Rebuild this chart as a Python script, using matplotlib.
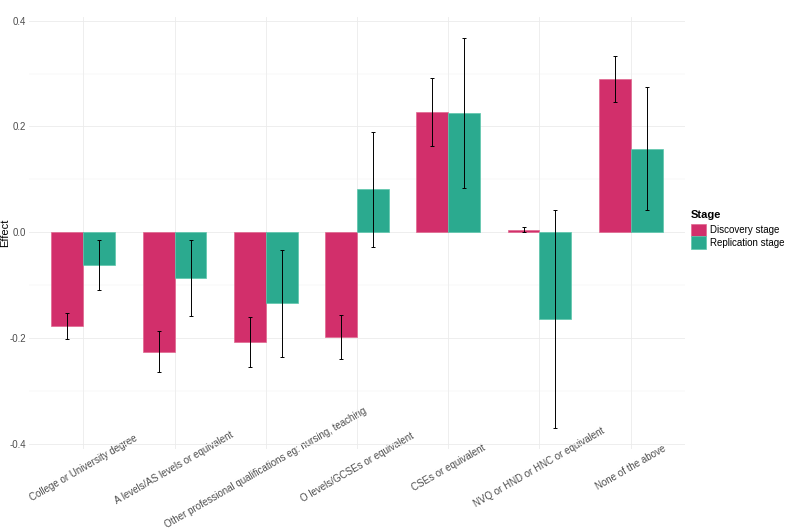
import numpy as np
import matplotlib
matplotlib.use("Agg")
import matplotlib.pyplot as plt
from matplotlib.patches import Patch
from matplotlib.ticker import MultipleLocator, FuncFormatter

plt.rcParams['font.family'] = ['Liberation Sans', 'DejaVu Sans']

# Daty
categories = [
    "College or University degree",
    "A levels/AS levels or equivalent",
    "Other professional qualifications eg: nursing, teaching",
    "O levels/GCSEs or equivalent",
    "CSEs or equivalent",
    "NVQ or HND or HNC or equivalent",
    "None of the above",
]
stages = ["Discovery stage", "Replication stage"]

disc_effect = [-0.178, -0.226, -0.208, -0.198, 0.227, 0.004, 0.290]
disc_low = [-0.203, -0.265, -0.256, -0.239, 0.163, 0.000, 0.247]
disc_high = [-0.153, -0.187, -0.160, -0.157, 0.291, 0.009, 0.333]

rep_effect = [-0.062, -0.086, -0.134, 0.081, 0.225, -0.165, 0.158]
rep_low = [-0.110, -0.158, -0.236, -0.029, 0.083, -0.371, 0.041]
rep_high = [-0.015, -0.015, -0.033, 0.190, 0.368, 0.042, 0.275]

colors = ["#d22f6b", "#2baa8f"]
edges = ["#e0688f", "#5cc6ac"]

fig = plt.figure(figsize=(7.87, 5.30), dpi=100)
ax = fig.add_axes([0.0363, 0.153, 0.8347, 0.815])

x = np.arange(len(categories))
w = 0.35
series = [(disc_effect, disc_low, disc_high), (rep_effect, rep_low, rep_high)]
for i, (eff, lo, hi) in enumerate(series):
    pos = x + (i - 0.5) * w
    eff = np.array(eff)
    ax.bar(pos, eff, width=w, color=colors[i], edgecolor=edges[i],
           linewidth=0.5, zorder=2)
    yerr = np.vstack([eff - np.array(lo), np.array(hi) - eff])
    ax.errorbar(pos, eff, yerr=yerr, fmt='none', ecolor='black',
                elinewidth=0.7, capsize=1.2, capthick=0.7, zorder=3)

ax.set_xlim(-0.6, len(categories) - 0.4)
ax.set_ylim(-0.41, 0.407)
ax.yaxis.set_major_locator(MultipleLocator(0.2))
ax.yaxis.set_minor_locator(MultipleLocator(0.1))
ax.yaxis.set_major_formatter(FuncFormatter(lambda v, p: f"{v:.1f}"))

ax.set_xticks(x)
ax.set_xticklabels(categories, rotation=30, ha='center', va='center',
                   rotation_mode='anchor')

ax.grid(which='major', color='#ebebeb', linewidth=0.6, zorder=0)
ax.grid(which='minor', axis='y', color='#f2f2f2', linewidth=0.35, zorder=0)
ax.set_axisbelow(True)
for s in ax.spines.values():
    s.set_visible(False)
ax.tick_params(axis='both', which='both', length=0, labelsize=7,
               labelcolor='#4d4d4d')
ax.tick_params(axis='x', pad=13.5)
ax.tick_params(axis='y', pad=1.5)

ax.set_ylabel("Effect", fontsize=8, va='center')
ax.yaxis.set_label_coords(-0.035, 0.5)

# legenda
fig.text(691 / 787, 1 - 215 / 530, "Stage", fontsize=8, fontweight='bold',
         ha='left', va='center')
handles = [Patch(facecolor=colors[i], edgecolor=edges[i], linewidth=0.5)
           for i in range(2)]
leg = fig.legend(handles, stages, loc='upper left',
                 bbox_to_anchor=(691 / 787, 1 - 224 / 530), frameon=False,
                 fontsize=7, borderpad=0, borderaxespad=0,
                 handlelength=1.5, handleheight=1.6, labelspacing=0.0,
                 handletextpad=0.5)

fig.savefig("out.png", dpi=100)
